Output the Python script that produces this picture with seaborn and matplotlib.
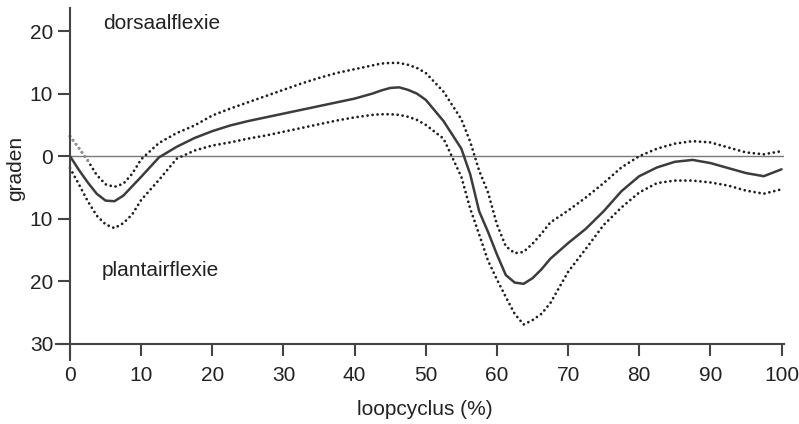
import seaborn as sns
import matplotlib.pyplot as plt

# loopcyclus (%) en enkelhoek in graden (dorsaalflexie positief)
pct = [0, 1.25, 2.5, 3.75, 5, 6.25, 7.5, 8.75, 10, 12.5, 15, 17.5, 20, 22.5, 25,
       27.5, 30, 32.5, 35, 37.5, 40, 42.5, 43.75, 45, 46.25, 47.5, 48.75, 50,
       52.5, 55, 56.25, 57.5, 58.75, 60, 61.25, 62.5, 63.75, 65, 66.25, 67.5,
       70, 72.5, 75, 77.5, 80, 82.5, 85, 87.5, 90, 92.5, 95, 97.5, 100]
gemiddeld = [0, -2.2, -4.2, -6.0, -7.1, -7.2, -6.3, -4.8, -3.3, -0.2, 1.5, 2.9,
             4.0, 4.9, 5.6, 6.2, 6.8, 7.4, 8.0, 8.6, 9.2, 10.0, 10.5, 10.9, 11.0,
             10.6, 10.0, 9.0, 5.6, 1.2, -2.9, -8.8, -12.1, -15.7, -19.0, -20.2,
             -20.4, -19.5, -18.1, -16.4, -13.9, -11.6, -8.8, -5.6, -3.2, -1.8,
             -0.9, -0.6, -1.1, -1.9, -2.7, -3.2, -2.1]
boven = [3.2, 1.3, -0.7, -3.0, -4.5, -4.9, -4.4, -2.8, -0.5, 2.1, 3.7, 4.9, 6.5,
         7.6, 8.6, 9.6, 10.6, 11.6, 12.5, 13.3, 13.9, 14.5, 14.8, 14.9, 14.9,
         14.6, 14.1, 13.3, 10.3, 5.9, 2.3, -2.3, -5.8, -10.9, -14.4, -15.5,
         -15.3, -14.0, -12.4, -10.6, -8.7, -6.6, -4.3, -1.8, 0.0, 1.2, 2.0, 2.4,
         2.2, 1.4, 0.6, 0.3, 0.8]
onder = [-1.9, -4.5, -7.2, -9.5, -10.9, -11.5, -10.7, -9.3, -7.0, -3.8, -0.4,
         0.9, 1.7, 2.2, 2.8, 3.3, 3.9, 4.5, 5.1, 5.7, 6.2, 6.6, 6.7, 6.7, 6.6,
         6.3, 5.8, 5.0, 2.8, -3.3, -8.4, -12.5, -16.7, -19.7, -22.5, -25.2,
         -26.9, -26.2, -25.2, -23.5, -18.5, -14.8, -11.0, -8.2, -5.8, -4.3,
         -3.9, -3.9, -4.2, -4.7, -5.5, -6.0, -5.3]

yticks = [20, 10, 0, -10, -20, -30]
ytick_labels = ['20', '10', '0', '10', '20', '30']
xticks = [0, 10, 20, 30, 40, 50, 60, 70, 80, 90, 100]

sns.set_style('ticks')
plt.rcParams['font.family'] = ['Liberation Sans', 'DejaVu Sans']
fs = 15

fig = plt.figure(figsize=(7.99, 4.24), dpi=100)
ax = fig.add_axes([0.0698, 0.152, 0.911, 0.828])

# nullijn
ax.axhline(0, xmin=(0 + 2) / 102.3, xmax=1, color='#7a7a7a', lw=1.0, zorder=1)

dots = dict(linestyle=(0, (0.01, 1.8)), dash_capstyle='round', lw=2.0)
sns.lineplot(x=pct, y=boven, ax=ax, color='#1e1e1e', errorbar=None, **dots)
sns.lineplot(x=pct[:3], y=boven[:3], ax=ax, color='#9a9a9a', errorbar=None, **dots)
sns.lineplot(x=pct, y=onder, ax=ax, color='#1e1e1e', errorbar=None, **dots)
sns.lineplot(x=pct, y=gemiddeld, ax=ax, color='#3c3c3c', errorbar=None, lw=1.8)

ax.set_xlim(-2, 100.3)
ax.set_ylim(-32.5, 23.6)
ax.set_xticks(xticks)
ax.set_yticks(yticks)
ax.set_yticklabels(ytick_labels)

for s in ['top', 'right']:
    ax.spines[s].set_visible(False)
ax.spines['left'].set_position(('data', 0))
ax.spines['bottom'].set_position(('data', -30))
for s in ['left', 'bottom']:
    ax.spines[s].set_color('#444444')
    ax.spines[s].set_linewidth(1.5)

ax.tick_params(axis='both', length=8.6, width=1.5, color='#444444',
               labelsize=fs, labelcolor='#222222')
ax.tick_params(axis='y', pad=3.5)
ax.tick_params(axis='x', pad=7)

ax.set_xlabel('loopcyclus (%)', fontsize=fs, color='#222222')
ax.set_ylabel('graden', fontsize=fs, color='#222222')
ax.xaxis.set_label_coords(0.507, -0.115)
ax.yaxis.set_label_coords(-0.042, 0.545)

ax.text(4.6, 21.2, 'dorsaalflexie', fontsize=fs, color='#222222', va='center')
ax.text(4.4, -18.2, 'plantairflexie', fontsize=fs, color='#222222', va='center')

fig.savefig('out.png', dpi=100)
